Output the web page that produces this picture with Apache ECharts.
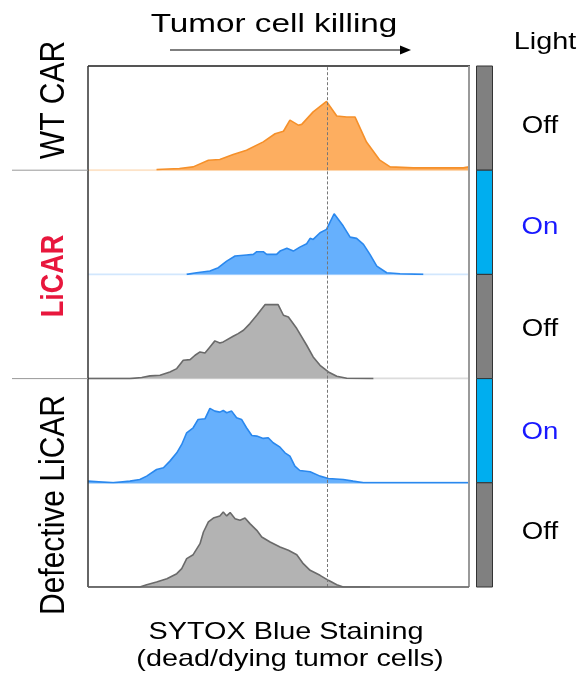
<!DOCTYPE html>
<html>
<head>
<meta charset="utf-8">
<script src="https://cdn.jsdelivr.net/npm/echarts@6/dist/echarts.min.js"></script>
<style>html,body{margin:0;padding:0;background:#fff}#c{width:581px;height:678px}</style>
</head>
<body>
<div id="c"></div>
<script>
// ---- data (x: SYTOX Blue intensity, arbitrary 0-100; y: normalised count, % of panel height) ----
const panelNames = ['WT CAR Off', 'LiCAR On', 'LiCAR Off', 'Defective LiCAR On', 'Defective LiCAR Off'];
const lightStates = ['Off', 'On', 'Off', 'On', 'Off'];
const gateX = 62.7;

const wtOffX =  [18, 24, 27.6, 31.6, 34.6, 38.1, 41.6, 46, 49.1, 51.3, 53, 55.2, 56.1, 59.1, 62.6, 65.3, 67.9, 70.1, 73.1, 76.6, 79.3, 85.4, 98.5, 100];
const wtOffY =  [0.7, 1.6, 3.2, 9.6, 10.3, 15, 19.2, 27.2, 35, 37.4, 48, 43.2, 44, 56, 66, 52, 51, 51, 27, 9.6, 3.2, 2.2, 2.2, 3.2];

const liOnX =   [25.9, 28.5, 32.0, 34.2, 36.4, 38.6, 41.6, 43.4, 44.3, 46.0, 46.9, 49.5, 50.4, 52.2, 53.9, 55.6, 57.4, 58.3, 59.1, 60.9, 62.6, 64.6, 67.0, 68.8, 70.5, 72.3, 74.0, 75.8, 78.4, 81.9, 88.0];
const liOnY =   [0, 1.6, 3.2, 6.4, 12.8, 17.6, 18.6, 19.2, 21.8, 21.8, 19.2, 19.2, 22.4, 25, 22.4, 26.2, 29.4, 34.6, 33.6, 40, 43.2, 58.2, 46.4, 35.8, 34.6, 28.8, 19.2, 8, 1.6, 0.6, 0];

const liOffX =  [0, 11.0, 14.1, 16.3, 18.9, 21.5, 23.3, 25.0, 26.8, 28.1, 29.4, 30.7, 32.0, 33.3, 34.6, 35.5, 38.1, 39.4, 40.8, 42.5, 44.3, 46.5, 49.9, 51.3, 52.6, 54.8, 57.4, 59.1, 60.9, 63.1, 65.3, 67.9, 74.9];
const liOffY =  [0, 0, 1, 2.6, 3.2, 6.4, 9.6, 17.6, 18.2, 22.4, 25.6, 24.6, 30.4, 36.2, 34.2, 35.2, 40.6, 43.2, 46.4, 52.8, 60.8, 71, 71, 60.8, 59.2, 48, 32, 20.8, 12.8, 6.4, 2.2, 0.3, 0];

const defOnX =  [0, 6.6, 11.0, 13.6, 15.4, 18.0, 19.8, 21.5, 23.3, 24.6, 25.9, 27.6, 28.9, 30.7, 32.0, 33.3, 34.6, 35.5, 36.4, 37.7, 39.0, 40.3, 41.6, 43.0, 44.3, 46.0, 47.3, 48.6, 50.4, 51.7, 53.0, 54.3, 55.6, 58.3, 60.9, 63.1, 67.0, 69.6, 72.3, 100];
const defOnY =  [1.6, 0, 1.6, 3.2, 6.4, 12.8, 14.4, 20.8, 28.8, 36.8, 48, 52.8, 60.8, 61.4, 71.4, 68.8, 67.8, 69.4, 67.2, 68.8, 62.4, 60.8, 52.8, 45.4, 44.8, 42.6, 43.2, 38.4, 34.2, 28.8, 25.6, 16, 11.8, 10.6, 6.4, 4.2, 3.2, 1.6, 0, 0];

const defOffX = [0, 6.6, 13.6, 15.4, 18.0, 20.7, 23.3, 24.6, 25.9, 27.6, 29.4, 30.3, 31.6, 32.9, 34.6, 35.5, 36.4, 37.3, 38.6, 39.9, 41.2, 42.5, 44.3, 45.6, 47.8, 50.4, 52.6, 54.8, 56.5, 58.3, 60.9, 63.1, 65.3, 67.0, 74.0];
const defOffY = [0, 0, 0, 2.2, 4.8, 8, 12.8, 17.6, 27.2, 31, 41.6, 52.8, 62.4, 66.2, 68.2, 72, 68.2, 71.4, 65.6, 64, 66.2, 60.8, 54.4, 48, 43.2, 38.4, 35.2, 31, 22.4, 16, 11.2, 6.4, 2.2, 0, 0];

const seriesX = [wtOffX, liOnX, liOffX, defOnX, defOffX];
const seriesY = [wtOffY, liOnY, liOffY, defOnY, defOffY];

// ---- styles ----
const FONT = '"Liberation Sans", Arial, Helvetica, sans-serif';
const lineColors = ['#f5902a', '#2a88ee', '#6a6a6a', '#2a88ee', '#6a6a6a'];
const fillColors = ['#fdae60', '#66b0fd', '#b3b3b3', '#66b0fd', '#b3b3b3'];
const baseColors = ['#fde3c8', '#d2e7fd', '#dcdcdc', '#7fbbf7', '#cfcfcf'];

const L = 88, R = 469, T = 66, B = 587;
const W = R - L, PH = (B - T) / 5;
const SX = 1.2;

const grids = [], xAxes = [], yAxes = [], series = [];
for (let i = 0; i < 5; i++) {
  grids.push({ left: L, top: T + i * PH, width: W, height: PH, show: false });
  xAxes.push({ type: 'value', gridIndex: i, min: 0, max: 100, show: false });
  yAxes.push({ type: 'value', gridIndex: i, min: 0, max: 100, show: false });
  series.push({
    type: 'line', name: panelNames[i] + ' base', xAxisIndex: i, yAxisIndex: i, z: 1,
    data: [[0, 0], [100, 0]], symbol: 'none', silent: true,
    lineStyle: { color: baseColors[i], width: 2 }
  });
  series.push({
    type: 'line', name: panelNames[i], xAxisIndex: i, yAxisIndex: i, z: 2,
    data: seriesX[i].map((x, k) => [x, seriesY[i][k]]),
    symbol: 'none', smooth: false, silent: true,
    lineStyle: { color: lineColors[i], width: 1.6 },
    areaStyle: { color: fillColors[i], opacity: 1 },
    markLine: {
      silent: true, symbol: 'none', animation: false,
      label: { show: false },
      lineStyle: { color: '#777', type: [3, 2], width: 1 },
      data: [{ xAxis: gateX }]
    }
  });
}

const graphic = [];
// frame
graphic.push({ type: 'line', shape: { x1: L, y1: T, x2: R + 1, y2: T }, style: { stroke: '#555', lineWidth: 2 }, z: 10 });
graphic.push({ type: 'line', shape: { x1: L, y1: T, x2: L, y2: B }, style: { stroke: '#333', lineWidth: 1.5 }, z: 10 });
graphic.push({ type: 'line', shape: { x1: R, y1: T, x2: R, y2: B }, style: { stroke: '#9a9a9a', lineWidth: 2 }, z: 10 });
graphic.push({ type: 'line', shape: { x1: L, y1: B, x2: R, y2: B }, style: { stroke: '#666', lineWidth: 1.5 }, z: 10 });
// left group separators
[1, 3].forEach(k => {
  graphic.push({ type: 'line', shape: { x1: 12, y1: T + k * PH, x2: L, y2: T + k * PH }, style: { stroke: '#999', lineWidth: 1 }, z: 10 });
});
// light bar and labels
const onOffY = [127, 228, 330, 433, 533];
lightStates.forEach((s, i) => {
  graphic.push({
    type: 'rect', shape: { x: 476.5, y: T + i * PH, width: 16, height: PH },
    style: { fill: s === 'On' ? '#00aeef' : '#808080', stroke: '#333', lineWidth: 1 }, z: 10
  });
  graphic.push({
    type: 'text', x: 540, y: onOffY[i], scaleX: SX,
    style: { text: s, font: '23px ' + FONT, fill: s === 'On' ? '#1818ff' : '#000', textAlign: 'center', textVerticalAlign: 'middle' }, z: 10
  });
});
graphic.push({
  type: 'text', x: 545, y: 42, scaleX: SX,
  style: { text: 'Light', font: '24px ' + FONT, fill: '#000', textAlign: 'center', textVerticalAlign: 'middle' }, z: 10
});
// title + arrow
graphic.push({
  type: 'text', x: 274, y: 25, scaleX: 1.28,
  style: { text: 'Tumor cell killing', font: '26px ' + FONT, fill: '#000', textAlign: 'center', textVerticalAlign: 'middle' }, z: 10
});
graphic.push({ type: 'line', shape: { x1: 170, y1: 50, x2: 402, y2: 50 }, style: { stroke: '#000', lineWidth: 1.2 }, z: 10 });
graphic.push({ type: 'polygon', shape: { points: [[400, 45.5], [411, 50], [400, 54.5]] }, style: { fill: '#000' }, z: 10 });
// x title
graphic.push({
  type: 'text', x: 286, y: 632, scaleX: SX,
  style: { text: 'SYTOX Blue Staining', font: '24px ' + FONT, fill: '#000', textAlign: 'center', textVerticalAlign: 'middle' }, z: 10
});
graphic.push({
  type: 'text', x: 290, y: 659, scaleX: SX,
  style: { text: '(dead/dying tumor cells)', font: '24px ' + FONT, fill: '#000', textAlign: 'center', textVerticalAlign: 'middle' }, z: 10
});
// group labels (rotated)
const groupLabels = [
  { text: 'WT CAR', y: 100, font: '30px ' + FONT, fill: '#000' },
  { text: 'LiCAR', y: 276, font: 'bold 27px ' + FONT, fill: '#e8173d' },
  { text: 'Defective LiCAR', y: 505, font: '30px ' + FONT, fill: '#000' }
];
groupLabels.forEach(g => {
  graphic.push({
    type: 'text', x: 54, y: g.y, rotation: Math.PI / 2, scaleY: 1.18,
    style: { text: g.text, font: g.font, fill: g.fill, textAlign: 'center', textVerticalAlign: 'middle' }, z: 10
  });
});

const chart = echarts.init(document.getElementById('c'), null, { renderer: 'canvas' });
chart.setOption({
  animation: false,
  backgroundColor: '#fff',
  grid: grids,
  xAxis: xAxes,
  yAxis: yAxes,
  series: series,
  graphic: graphic
});
</script>
</body>
</html>
